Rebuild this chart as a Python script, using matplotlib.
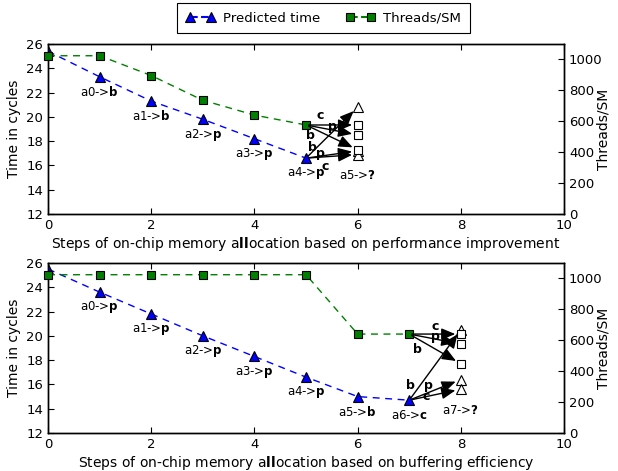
import matplotlib
matplotlib.use("Agg")
import matplotlib.pyplot as plt
from matplotlib.lines import Line2D

plt.rcParams['font.family'] = ['DejaVu Sans']
plt.rcParams['mathtext.fontset'] = 'dejavusans'
plt.rcParams['xtick.direction'] = 'in'
plt.rcParams['ytick.direction'] = 'in'
plt.rcParams['xtick.top'] = True
plt.rcParams['axes.linewidth'] = 1.0

# ---------------- data ----------------
steps_top = [0, 1, 2, 3, 4, 5]
time_top = [25.4, 23.3, 21.3, 19.8, 18.2, 16.6]
threads_top = [1024, 1024, 896, 736, 640, 576]
choices_top = ['b', 'b', 'p', 'p', 'p']

steps_bot = [0, 1, 2, 3, 4, 5, 6, 7]
time_bot = [25.5, 23.6, 21.8, 20.0, 18.3, 16.6, 15.0, 14.7]
threads_bot = [1024, 1024, 1024, 1024, 1024, 1024, 640, 640]
choices_bot = ['p', 'p', 'p', 'p', 'p', 'b', 'c']

cand_names = ['b', 'p', 'c']
cand_time_top = [20.8, 17.2, 16.9]
cand_threads_top = [416, 512, 576]
cand_time_bot = [20.5, 16.4, 15.6]
cand_threads_bot = [448, 576, 640]

xlabel_top = r"Steps of on-chip memory a$\mathbf{ll}$ocation based on performance improvement"
xlabel_bot = r"Steps of on-chip memory a$\mathbf{ll}$ocation based on buffering efficiency"
ylabel_left = "Time in cycles"
ylabel_right = "Threads/SM"
legend_labels = ['Predicted time', 'Threads/SM']
x_ticks = [0, 2, 4, 6, 8, 10]
y_ticks = [12, 14, 16, 18, 20, 22, 24, 26]
thr_ticks = [0, 200, 400, 600, 800, 1000]

# ---------------- layout ----------------
# label positions for arrow letters (in time-axis coordinates)
arrow_lbl_top = {
    ('sq', 'c'): (5.28, 20.15), ('sq', 'p'): (5.51, 19.2), ('sq', 'b'): (5.09, 18.5),
    ('tri', 'b'): (5.12, 17.5), ('tri', 'p'): (5.28, 17.0), ('tri', 'c'): (5.38, 15.95),
}
arrow_lbl_bot = {
    ('sq', 'c'): (7.5, 20.8), ('sq', 'p'): (7.5, 19.95), ('sq', 'b'): (7.16, 18.87),
    ('tri', 'b'): (7.02, 15.95), ('tri', 'p'): (7.37, 15.95), ('tri', 'c'): (7.32, 15.02),
}

fig = plt.figure(figsize=(6.18, 4.71), dpi=100)
ax_t = fig.add_axes([0.0777, 0.5456, 0.835, 0.361])
ax_b = fig.add_axes([0.0777, 0.0807, 0.835, 0.361])

TICKFS = 9.5
LBLFS = 10
ANNFS = 8.5
TRI_MS = 7.5
SQ_MS = 5.8

arrowprops = dict(arrowstyle='-|>,head_length=0.6,head_width=0.25', color='black',
                  lw=1.0, shrinkA=2, shrinkB=4, mutation_scale=14)


def panel(ax, steps, time, threads, choices, ctime, cthreads, xlabel, lblpos, qoff):
    ax2 = ax.twinx()
    ax.plot(steps, time, linestyle='--', color='#0000ff', lw=1.0, dashes=(5, 4),
            marker='^', markersize=TRI_MS, markerfacecolor='#0000ff', markeredgecolor='black',
            markeredgewidth=0.8, zorder=3)
    ax2.plot(steps, threads, linestyle='--', color='#008000', lw=1.0, dashes=(5, 4),
             marker='s', markersize=SQ_MS, markerfacecolor='#008000', markeredgecolor='black',
             markeredgewidth=0.8, zorder=3, clip_on=False)
    xn = steps[-1] + 1
    # candidate markers
    for t in ctime:
        ax.plot([xn], [t], marker='^', markersize=TRI_MS, markerfacecolor='white',
                markeredgecolor='black', markeredgewidth=0.8, linestyle='none', zorder=3)
    for h in cthreads:
        ax2.plot([xn], [h], marker='s', markersize=SQ_MS, markerfacecolor='white',
                 markeredgecolor='black', markeredgewidth=0.8, linestyle='none', zorder=3)
    # arrows
    for name, t in zip(cand_names, ctime):
        ax2.annotate('', xy=(xn, t), xytext=(steps[-1], time[-1]),
                     xycoords=ax.transData, textcoords=ax.transData, arrowprops=arrowprops)
    for name, h in zip(cand_names, cthreads):
        ax2.annotate('', xy=(xn, h), xytext=(steps[-1], threads[-1]),
                     arrowprops=arrowprops)
    for (kind, name), (x, y) in lblpos.items():
        ax2.text(x, y, name, transform=ax.transData, ha='center', va='center',
                 fontsize=9, fontweight='bold')
    # step labels
    for i, c in enumerate(choices):
        ax2.annotate(r"a%d->$\mathbf{%s}$" % (i, c), xy=(steps[i + 1], time[i + 1]),
                     xycoords=ax.transData, xytext=(0, -11), textcoords='offset points',
                     ha='center', va='center', fontsize=ANNFS)
    ax2.annotate(r"a%d->$\mathbf{?}$" % len(choices), xy=(xn, min(ctime)),
                 xycoords=ax.transData, xytext=(0, qoff), textcoords='offset points',
                 ha='center', va='center', fontsize=ANNFS)

    ax.set_xlim(0, 10)
    ax.set_ylim(12, 26)
    ax2.set_ylim(0, 1100)
    ax.set_xticks(x_ticks)
    ax.set_yticks(y_ticks)
    ax2.set_yticks(thr_ticks)
    ax.tick_params(labelsize=TICKFS, length=4, width=0.8)
    ax2.tick_params(labelsize=TICKFS, length=4, width=0.8, direction='in')
    ax.set_xlabel(xlabel, fontsize=LBLFS, labelpad=2)
    ax.set_ylabel(ylabel_left, fontsize=LBLFS)
    ax2.set_ylabel(ylabel_right, fontsize=LBLFS)
    ax2.yaxis.set_label_coords(1.062, 0.5)
    return ax2


panel(ax_t, steps_top, time_top, threads_top, choices_top, cand_time_top,
      cand_threads_top, xlabel_top, arrow_lbl_top, -15)
panel(ax_b, steps_bot, time_bot, threads_bot, choices_bot, cand_time_bot,
      cand_threads_bot, xlabel_bot, arrow_lbl_bot, -15)

handles = [
    Line2D([], [], linestyle='--', color='#0000ff', marker='^', markersize=TRI_MS,
           markerfacecolor='#0000ff', markeredgecolor='black', markeredgewidth=0.8),
    Line2D([], [], linestyle='--', color='#008000', marker='s', markersize=SQ_MS,
           markerfacecolor='#008000', markeredgecolor='black', markeredgewidth=0.8),
]
leg = fig.legend(handles, legend_labels, loc='upper center',
                 bbox_to_anchor=(323.5 / 618, 1 - 3 / 471), ncol=2, numpoints=2,
                 fancybox=False, edgecolor='black', fontsize=9.5, handlelength=2.2,
                 handletextpad=0.6, columnspacing=2.0, borderpad=0.65, borderaxespad=0,
                 framealpha=1)
leg.get_frame().set_linewidth(0.8)

fig.savefig("out.png", dpi=100)
